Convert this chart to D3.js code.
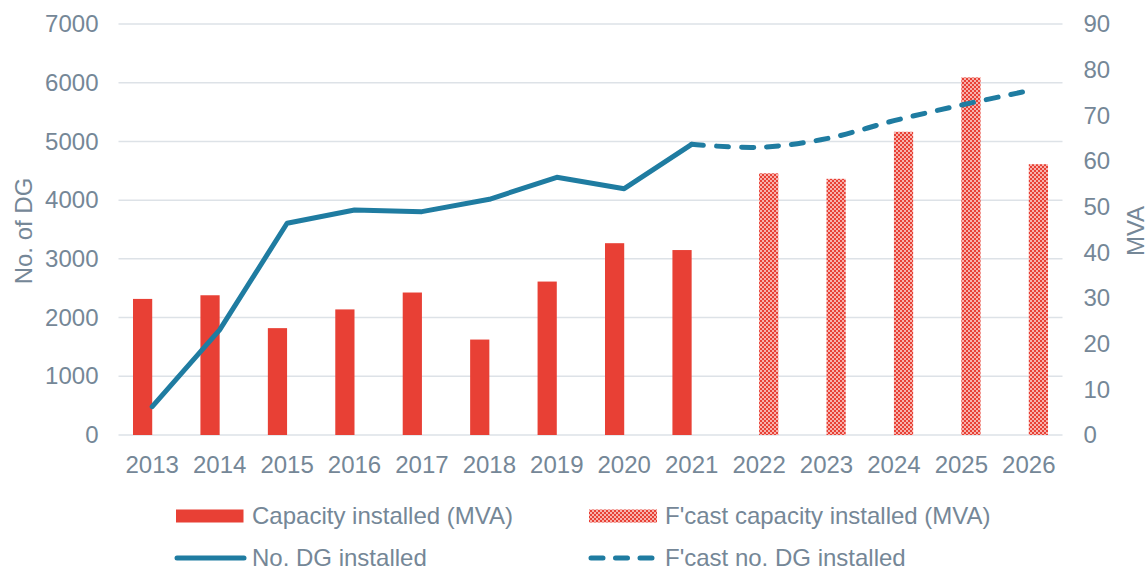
<!doctype html>
<html>
<head>
<meta charset="utf-8">
<script src="https://d3js.org/d3.v7.min.js"></script>
<style>
  body { margin: 0; background: #fff; }
  text { font-family: "Liberation Sans", Arial, sans-serif; fill: #758797; }
</style>
</head>
<body>
<script>
// chart data
var years = ['2013','2014','2015','2016','2017','2018','2019','2020','2021','2022','2023','2024','2025','2026'];
var capacity = [29.8, 30.6, 23.4, 27.5, 31.2, 20.9, 33.6, 42.0, 40.5, null, null, null, null, null];
var fcastCapacity = [null, null, null, null, null, null, null, null, null, 57.3, 56.1, 66.4, 78.3, 59.3];
var dgInstalled = [482, 1790, 3606, 3832, 3804, 4014, 4389, 4195, 4951, null, null, null, null, null];
var fcastDg = [null, null, null, null, null, null, null, null, 4951, 4900, 5047, 5353, 5620, 5864];
var leftTicks = [0, 1000, 2000, 3000, 4000, 5000, 6000, 7000];
var rightTicks = [0, 10, 20, 30, 40, 50, 60, 70, 80, 90];

var width = 1148, height = 572;
var plotLeft = 118.5, plotRight = 1062.5, plotTop = 24, plotBottom = 435;
var red = '#E84035', blue = '#1F7CA1', grid = '#DDE2E7', textColor = '#758797';
var fontSize = '24px';

var svg = d3.select('body').append('svg')
    .attr('width', width)
    .attr('height', height);

// pattern for forecast bars
var defs = svg.append('defs');
var pat = defs.append('pattern')
    .attr('id', 'checker')
    .attr('patternUnits', 'userSpaceOnUse')
    .attr('width', 4).attr('height', 4);
pat.append('rect').attr('width', 4).attr('height', 4).attr('fill', '#F7B2AC');
pat.append('rect').attr('width', 2).attr('height', 2).attr('fill', red);
pat.append('rect').attr('x', 2).attr('y', 2).attr('width', 2).attr('height', 2).attr('fill', red);

var x = d3.scaleBand().domain(years).range([plotLeft, plotRight]);
var yLeft = d3.scaleLinear().domain([0, 7000]).range([plotBottom, plotTop]);
var yRight = d3.scaleLinear().domain([0, 90]).range([plotBottom, plotTop]);
var barW = x.bandwidth() * 0.285;

// gridlines
svg.append('g').selectAll('line')
    .data(leftTicks)
    .enter().append('line')
    .attr('x1', plotLeft).attr('x2', plotRight)
    .attr('y1', function(d) { return yLeft(d); })
    .attr('y2', function(d) { return yLeft(d); })
    .attr('stroke', grid).attr('stroke-width', 1.5);

function styleAxis(g) {
    g.select('.domain').remove();
    g.selectAll('text')
        .style('font-size', fontSize)
        .style('fill', textColor)
        .style('font-family', '"Liberation Sans", Arial, sans-serif');
}

// left axis
svg.append('g')
    .attr('transform', 'translate(' + (plotLeft - 20) + ',0)')
    .call(d3.axisLeft(yLeft).tickValues(leftTicks).tickFormat(d3.format('d')).tickSize(0).tickPadding(0))
    .call(styleAxis);

// right axis
svg.append('g')
    .attr('transform', 'translate(' + (plotRight + 21) + ',0)')
    .call(d3.axisRight(yRight).tickValues(rightTicks).tickFormat(d3.format('d')).tickSize(0).tickPadding(0))
    .call(styleAxis);

// x axis
svg.append('g')
    .attr('transform', 'translate(0,' + (plotBottom + 21) + ')')
    .call(d3.axisBottom(x).tickSize(0).tickPadding(0))
    .call(styleAxis);

// axis titles
svg.append('text')
    .attr('transform', 'translate(32,231) rotate(-90)')
    .attr('text-anchor', 'middle')
    .style('font-size', fontSize)
    .text('No. of DG');
svg.append('text')
    .attr('transform', 'translate(1144,231) rotate(-90)')
    .attr('text-anchor', 'middle')
    .style('font-size', fontSize)
    .text('MVA');

// actual bars (left slot)
svg.append('g').selectAll('rect')
    .data(years.filter(function(d, i) { return capacity[i] != null; }))
    .enter().append('rect')
    .attr('x', function(d) { return x(d) + x.bandwidth() / 2 - barW; })
    .attr('width', barW)
    .attr('y', function(d) { return yRight(capacity[years.indexOf(d)]); })
    .attr('height', function(d) { return plotBottom - yRight(capacity[years.indexOf(d)]); })
    .attr('fill', red);

// forecast bars (right slot)
svg.append('g').selectAll('rect')
    .data(years.filter(function(d, i) { return fcastCapacity[i] != null; }))
    .enter().append('rect')
    .attr('x', function(d) { return x(d) + x.bandwidth() / 2; })
    .attr('width', barW)
    .attr('y', function(d) { return yRight(fcastCapacity[years.indexOf(d)]); })
    .attr('height', function(d) { return plotBottom - yRight(fcastCapacity[years.indexOf(d)]); })
    .attr('fill', 'url(#checker)');

var cx = function(d) { return x(d.year) + x.bandwidth() / 2; };

// actual line
var actualPts = years.map(function(y, i) { return {year: y, v: dgInstalled[i]}; })
    .filter(function(d) { return d.v != null; });
svg.append('path')
    .datum(actualPts)
    .attr('d', d3.line().x(cx).y(function(d) { return yLeft(d.v); }))
    .attr('fill', 'none')
    .attr('stroke', blue)
    .attr('stroke-width', 5)
    .attr('stroke-linejoin', 'round')
    .attr('stroke-linecap', 'round');

// forecast line (smoothed)
var fcastPts = years.map(function(y, i) { return {year: y, v: fcastDg[i]}; })
    .filter(function(d) { return d.v != null; });
svg.append('path')
    .datum(fcastPts)
    .attr('d', d3.line().x(cx).y(function(d) { return yLeft(d.v); }).curve(d3.curveCatmullRom.alpha(0.5)))
    .attr('fill', 'none')
    .attr('stroke', blue)
    .attr('stroke-width', 5)
    .attr('stroke-dasharray', '12 13')
    .attr('stroke-linecap', 'round');

// legend
var legend = svg.append('g');
legend.append('rect').attr('x', 176).attr('y', 509.5).attr('width', 67.5).attr('height', 13).attr('fill', red);
legend.append('text').attr('x', 252).attr('y', 524).style('font-size', fontSize).text('Capacity installed (MVA)');
legend.append('rect').attr('x', 589).attr('y', 509.5).attr('width', 68).attr('height', 13).attr('fill', 'url(#checker)');
legend.append('text').attr('x', 665).attr('y', 524).style('font-size', fontSize).text("F'cast capacity installed (MVA)");
legend.append('line').attr('x1', 177).attr('x2', 244).attr('y1', 558).attr('y2', 558)
    .attr('stroke', blue).attr('stroke-width', 5).attr('stroke-linecap', 'round');
legend.append('text').attr('x', 252).attr('y', 566).style('font-size', fontSize).text('No. DG installed');
legend.append('line').attr('x1', 591).attr('x2', 652).attr('y1', 558).attr('y2', 558)
    .attr('stroke', blue).attr('stroke-width', 5).attr('stroke-linecap', 'round')
    .attr('stroke-dasharray', '12 12.5');
legend.append('text').attr('x', 665).attr('y', 566).style('font-size', fontSize).text("F'cast no. DG installed");
</script>
</body>
</html>
